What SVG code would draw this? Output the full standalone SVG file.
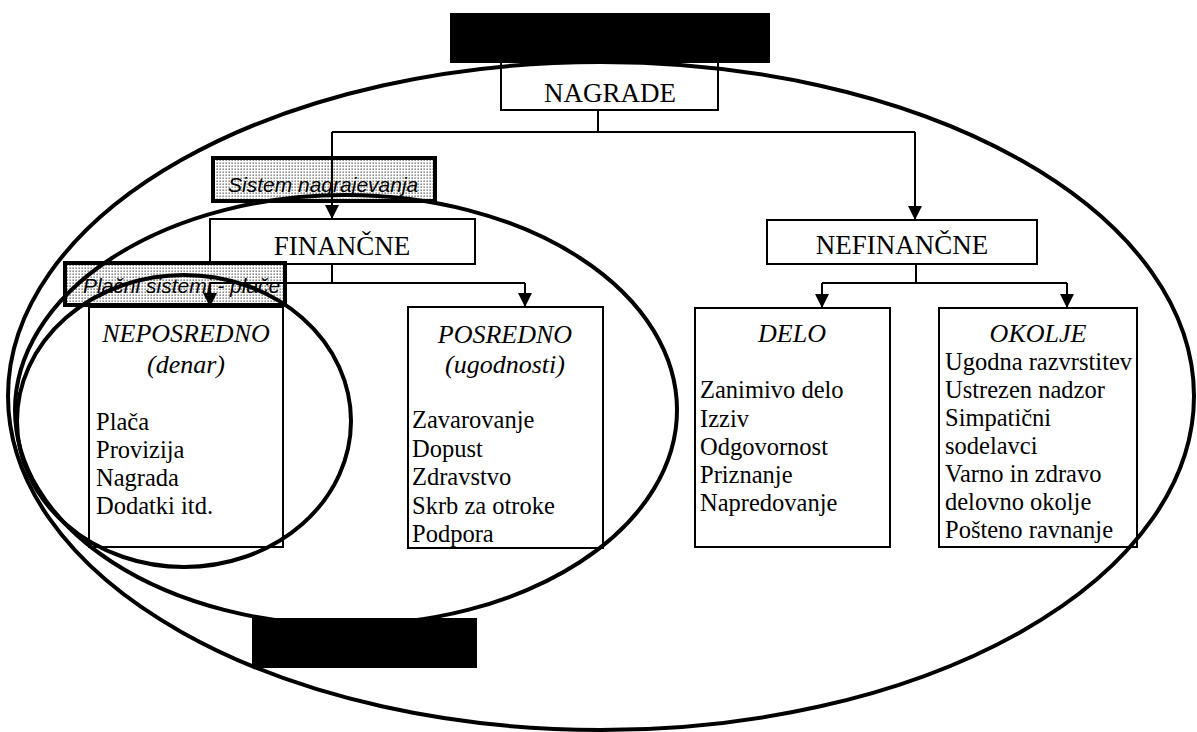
<svg xmlns="http://www.w3.org/2000/svg" width="1197" height="732" viewBox="0 0 1197 732">
<defs>
<pattern id="dots" width="3" height="3" patternUnits="userSpaceOnUse">
<rect width="3" height="3" fill="#fff"/>
<rect x="0.5" y="0.5" width="1.3" height="1.3" fill="#555"/>
</pattern>
<marker id="arr" markerWidth="14" markerHeight="14" refX="14" refY="7" orient="auto" markerUnits="userSpaceOnUse" viewBox="0 0 14 14">
<path d="M0,0 L14,7 L0,14 Z" fill="#000"/>
</marker>
</defs>
<style>
.box{fill:#fff;stroke:#000;stroke-width:2}
.lab{fill:url(#dots);stroke:#000;stroke-width:4}
.hd{font-family:"Liberation Serif",serif;font-size:27px;fill:#000;text-anchor:middle}
.it{font-family:"Liberation Serif",serif;font-size:26px;font-style:italic;fill:#000;text-anchor:middle}
.tx{font-family:"Liberation Serif",serif;font-size:24.5px;fill:#000}
.lt{font-family:"Liberation Sans",Arial,sans-serif;font-size:21px;font-style:italic;fill:#000}
.con{fill:none;stroke:#000;stroke-width:2}
.ell{fill:none;stroke:#000;stroke-width:4}
</style>
<rect width="1197" height="732" fill="#fff"/>

<g id="nagrade">
<rect class="box" x="501" y="62" width="217" height="48"/>
<text class="hd" x="610" y="102">NAGRADE</text>
</g>
<g id="financne">
<rect class="box" x="210" y="219" width="265" height="45"/>
<text class="hd" x="342" y="255">FINANČNE</text>
</g>
<g id="nefinancne">
<rect class="box" x="767" y="220" width="270" height="44"/>
<text class="hd" x="902" y="254">NEFINANČNE</text>
</g>
<g id="neposredno">
<rect class="box" x="89" y="307" width="194" height="240"/>
<text class="it" x="186" y="342">NEPOSREDNO</text>
<text class="it" x="186" y="373">(denar)</text>
<text class="tx" x="96" y="430">Plača</text>
<text class="tx" x="96" y="458">Provizija</text>
<text class="tx" x="96" y="486">Nagrada</text>
<text class="tx" x="96" y="514">Dodatki itd.</text>
</g>
<g id="posredno">
<rect class="box" x="408" y="307" width="195" height="241"/>
<text class="it" x="505" y="343">POSREDNO</text>
<text class="it" x="505" y="373">(ugodnosti)</text>
<text class="tx" x="412" y="428">Zavarovanje</text>
<text class="tx" x="412" y="457">Dopust</text>
<text class="tx" x="412" y="485">Zdravstvo</text>
<text class="tx" x="412" y="514">Skrb za otroke</text>
<text class="tx" x="412" y="542">Podpora</text>
</g>
<g id="delo">
<rect class="box" x="695" y="308" width="195" height="239"/>
<text class="it" x="792" y="342">DELO</text>
<text class="tx" x="700" y="398">Zanimivo delo</text>
<text class="tx" x="700" y="427">Izziv</text>
<text class="tx" x="700" y="455">Odgovornost</text>
<text class="tx" x="700" y="483">Priznanje</text>
<text class="tx" x="700" y="511">Napredovanje</text>
</g>
<g id="okolje">
<rect class="box" x="939" y="308" width="198" height="239"/>
<text class="it" x="1038" y="342">OKOLJE</text>
<text class="tx" x="945" y="370">Ugodna razvrstitev</text>
<text class="tx" x="945" y="398">Ustrezen nadzor</text>
<text class="tx" x="945" y="426">Simpatični</text>
<text class="tx" x="945" y="454">sodelavci</text>
<text class="tx" x="945" y="482">Varno in zdravo</text>
<text class="tx" x="945" y="510">delovno okolje</text>
<text class="tx" x="945" y="538">Pošteno ravnanje</text>
</g>

<g id="label-sistem">
<rect class="lab" x="213" y="158" width="222" height="43"/>
<text class="lt" x="228" y="192">Sistem nagrajevanja</text>
</g>
<g id="label-placni">
<rect class="lab" x="65" y="263" width="220" height="42"/>
<text class="lt" x="83" y="293">Plačni sistemi - plače</text>
</g>

<g id="connectors">
<path class="con" d="M598,110 V132 M332,132 H915"/>
<path class="con" d="M332,132 V219" marker-end="url(#arr)"/>
<path class="con" d="M915,132 V220" marker-end="url(#arr)"/>
<path class="con" d="M332,264 V283 M210,283 H525"/>
<path class="con" d="M210,283 V307" marker-end="url(#arr)"/>
<path class="con" d="M525,283 V307" marker-end="url(#arr)"/>
<path class="con" d="M916,264 V283 M822,283 H1067"/>
<path class="con" d="M822,283 V308" marker-end="url(#arr)"/>
<path class="con" d="M1067,283 V308" marker-end="url(#arr)"/>
</g>

<g id="ellipses">
<ellipse class="ell" cx="601" cy="396" rx="593" ry="334"/>
<ellipse class="ell" cx="346" cy="410" rx="331" ry="215"/>
<ellipse class="ell" cx="184" cy="421" rx="167" ry="146"/>
</g>

<g id="masks">
<rect x="450" y="13" width="320" height="50" fill="#000"/>
<rect x="252" y="618" width="225" height="50" fill="#000"/>
</g>
</svg>
